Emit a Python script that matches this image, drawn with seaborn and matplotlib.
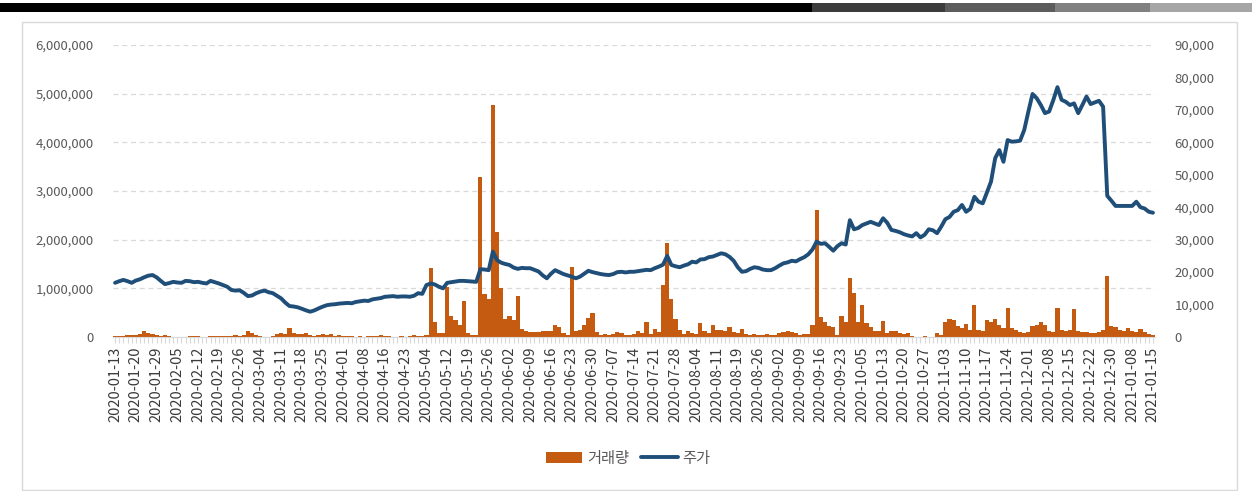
import numpy as np
import pandas as pd
import matplotlib
matplotlib.use("Agg")
import matplotlib.pyplot as plt
from matplotlib.patches import Rectangle, Patch
from matplotlib.lines import Line2D
from matplotlib.ticker import FuncFormatter, MultipleLocator
import seaborn as sns

# ---------------- data ----------------
tick_labels = [
    "2020-01-13", "2020-01-20", "2020-01-29", "2020-02-05", "2020-02-12", "2020-02-19",
    "2020-02-26", "2020-03-04", "2020-03-11", "2020-03-18", "2020-03-25", "2020-04-01",
    "2020-04-08", "2020-04-16", "2020-04-23", "2020-05-04", "2020-05-12", "2020-05-19",
    "2020-05-26", "2020-06-02", "2020-06-09", "2020-06-16", "2020-06-23", "2020-06-30",
    "2020-07-07", "2020-07-14", "2020-07-21", "2020-07-28", "2020-08-04", "2020-08-11",
    "2020-08-19", "2020-08-26", "2020-09-02", "2020-09-09", "2020-09-16", "2020-09-23",
    "2020-10-05", "2020-10-13", "2020-10-20", "2020-10-27", "2020-11-03", "2020-11-10",
    "2020-11-17", "2020-11-24", "2020-12-01", "2020-12-08", "2020-12-15", "2020-12-22",
    "2020-12-30", "2021-01-08", "2021-01-15",
]

# trading-day volume (거래량), one value per trading day
volume = [
    20000, 30000, 20000, 40000, 50000, 50000, 60000, 120000, 90000, 60000,
    40000, 30000, 40000, 20000, 10000, 10000, 10000, 10000, 20000, 20000,
    30000, 10000, 10000, 20000, 20000, 30000, 20000, 20000, 30000, 40000,
    30000, 50000, 120000, 90000, 40000, 20000, 10000, 10000, 20000, 70000,
    80000, 70000, 190000, 80000, 60000, 70000, 80000, 50000, 30000, 50000,
    60000, 50000, 60000, 30000, 40000, 20000, 20000, 20000, 10000, 20000,
    10000, 20000, 30000, 20000, 40000, 20000, 20000, 10000, 10000, 20000,
    10000, 20000, 50000, 20000, 20000, 50000, 1410000, 310000, 90000, 80000,
    1030000, 430000, 350000, 250000, 730000, 80000, 40000, 50000, 3290000, 880000,
    790000, 4770000, 2160000, 1000000, 360000, 430000, 350000, 840000, 160000, 120000,
    100000, 110000, 100000, 120000, 130000, 120000, 250000, 200000, 80000, 50000,
    1440000, 120000, 140000, 250000, 400000, 500000, 110000, 50000, 60000, 50000,
    60000, 100000, 90000, 50000, 40000, 60000, 130000, 80000, 300000, 70000,
    160000, 100000, 1070000, 1940000, 780000, 370000, 140000, 70000, 130000, 80000,
    60000, 290000, 120000, 80000, 250000, 140000, 150000, 130000, 200000, 100000,
    80000, 170000, 60000, 50000, 60000, 50000, 40000, 60000, 50000, 40000,
    90000, 100000, 120000, 100000, 80000, 50000, 60000, 70000, 250000, 2600000,
    420000, 310000, 220000, 200000, 40000, 430000, 300000, 1220000, 910000, 310000,
    660000, 290000, 200000, 120000, 120000, 330000, 90000, 120000, 120000, 80000,
    70000, 80000, 20000, 10000, 10000, 20000, 10000, 10000, 80000, 40000,
    300000, 360000, 340000, 220000, 180000, 270000, 150000, 660000, 150000, 120000,
    350000, 300000, 360000, 240000, 180000, 600000, 180000, 140000, 100000, 80000,
    100000, 220000, 250000, 300000, 250000, 120000, 100000, 600000, 150000, 120000,
    140000, 570000, 120000, 110000, 100000, 90000, 80000, 100000, 140000, 1250000,
    220000, 200000, 150000, 120000, 180000, 120000, 100000, 160000, 100000, 60000,
    40000,
]

# closing price (주가), one value per trading day
price = [
    16700, 17200, 17600, 17200, 16700, 17400, 17800, 18400, 18900, 19100,
    18400, 17300, 16300, 16600, 17000, 16800, 16700, 17300, 17200, 16900,
    17000, 16700, 16500, 17300, 16900, 16500, 16000, 15500, 14500, 14300,
    14400, 13600, 12600, 12800, 13500, 14000, 14300, 13800, 13500, 12700,
    11900, 10600, 9550, 9400, 9150, 8700, 8200, 7800, 8200, 8800,
    9350, 9800, 10000, 10100, 10300, 10400, 10500, 10400, 10800, 11000,
    11200, 11100, 11600, 11800, 12000, 12400, 12500, 12600, 12400, 12500,
    12500, 12400, 12700, 13500, 13300, 16000, 16500, 16200, 15500, 15000,
    16700, 16900, 17100, 17300, 17300, 17200, 17100, 17000, 20900, 20800,
    20600, 26300, 23700, 22900, 22500, 22200, 21400, 21000, 21300, 21200,
    21200, 20700, 20200, 19000, 18100, 19500, 20600, 20000, 19400, 19000,
    18600, 18100, 18600, 19500, 20400, 20000, 19700, 19400, 19200, 19100,
    19400, 20000, 20100, 19900, 20100, 20100, 20300, 20500, 20700, 20600,
    21200, 21700, 22300, 25000, 22200, 21800, 21500, 22000, 22400, 23200,
    23000, 23900, 24000, 24600, 24800, 25300, 25800, 25500, 24700, 23500,
    21500, 20100, 20300, 21000, 21500, 21300, 20800, 20600, 20600, 21200,
    22000, 22700, 23000, 23500, 23300, 24000, 24600, 25500, 27000, 29400,
    28700, 28900, 27800, 26600, 28000, 28900, 28500, 36000, 33200, 33600,
    34500, 35000, 35500, 35000, 34500, 36600, 35200, 33000, 32700, 32300,
    31700, 31300, 31000, 32000, 30700, 31500, 33200, 32900, 32000, 34000,
    36300, 37000, 38600, 39100, 40700, 38600, 39500, 43200, 41700, 41200,
    44500, 47900, 55100, 57600, 54000, 60700, 60200, 60300, 60500, 63800,
    69500, 74900, 73600, 71500, 69000, 69500, 73000, 77000, 73100, 72500,
    71500, 72000, 69000, 71500, 74100, 71800, 72300, 72800, 71000, 43500,
    42000, 40400, 40400, 40400, 40400, 40400, 41700, 40000, 39600, 38600,
    38300,
]

n_days = len(price)
df = pd.DataFrame({"day": np.arange(n_days), "volume": volume, "price": price})

# ---------------- style ----------------
sns.set_theme(style="white")
plt.rcParams["font.family"] = ["Noto Sans CJK KR", "DejaVu Sans"]

BAR_COLOR = "#C55A11"
LINE_COLOR = "#1F4E79"
TEXT_COLOR = "#595959"
GRID_COLOR = "#D9D9D9"

W, H = 1252, 491
fig = plt.figure(figsize=(W / 100, H / 100), dpi=100)

# header band and panel border
fig.add_artist(Rectangle((0, 1 - 12 / H), 812 / W, 9 / H, transform=fig.transFigure,
                         facecolor="black", edgecolor="none"))
for x0, x1, c in [(812, 945, "#3c3c3c"), (945, 1055, "#5c5c5c"),
                  (1055, 1150, "#808080"), (1150, 1252, "#a6a6a6")]:
    fig.add_artist(Rectangle((x0 / W, 1 - 12 / H), (x1 - x0) / W, 9 / H,
                             transform=fig.transFigure, facecolor=c, edgecolor="none"))
fig.add_artist(Rectangle((22 / W, 1 - 490 / H), (1237 - 22) / W, (490 - 22) / H,
                         transform=fig.transFigure, facecolor="none",
                         edgecolor="#D9D9D9", linewidth=1))

ax = fig.add_axes([113 / W, 1 - 337 / H, (1155 - 113) / W, (337 - 45) / H])
ax.set_facecolor("none")

sns.barplot(data=df, x="day", y="volume", ax=ax, color=BAR_COLOR, width=1.0,
            saturation=1, linewidth=0, native_scale=True)
ax.set_xlim(-0.5, n_days - 0.5)
ax.set_ylim(0, 6_000_000)
ax.yaxis.set_major_locator(MultipleLocator(1_000_000))
ax.yaxis.set_major_formatter(FuncFormatter(lambda v, p: f"{int(v):,}"))
ax.grid(axis="y", color=GRID_COLOR, linestyle=(0, (4, 3)), linewidth=0.9)
ax.set_axisbelow(True)

ax.set_xticks(np.arange(0, n_days, 5))
ax.set_xticklabels(tick_labels, rotation=90, fontsize=10.5, color="#3a3a3a",
                   fontweight="medium")
ax.set_xticks(np.arange(n_days), minor=True)
ax.tick_params(axis="x", which="both", length=4, color=GRID_COLOR, width=0.8,
               bottom=True, pad=3)
ax.tick_params(axis="y", length=0, labelsize=9.5, labelcolor=TEXT_COLOR, pad=14)
ax.set_xlabel("")
ax.set_ylabel("")
for s in ["top", "left", "right"]:
    ax.spines[s].set_visible(False)
ax.spines["bottom"].set_color(GRID_COLOR)
ax.spines["bottom"].set_linewidth(0.8)

ax2 = ax.twinx()
sns.lineplot(data=df, x="day", y="price", ax=ax2, color=LINE_COLOR, linewidth=2.8)
ax2.set_ylim(0, 90_000)
ax2.yaxis.set_major_locator(MultipleLocator(10_000))
ax2.yaxis.set_major_formatter(FuncFormatter(lambda v, p: f"{int(v):,}"))
ax2.tick_params(axis="y", length=0, labelsize=9.5, labelcolor=TEXT_COLOR, pad=14)
ax2.set_ylabel("")
ax2.set_xlabel("")
ax2.grid(False)
for s in ["top", "left", "right", "bottom"]:
    ax2.spines[s].set_visible(False)
ax2.set_xlim(-0.5, n_days - 0.5)

handles = [Patch(facecolor=BAR_COLOR, edgecolor="none", label="거래량"),
           Line2D([0], [0], color=LINE_COLOR, linewidth=2.8, label="주가")]
fig.legend(handles=handles, loc="center", bbox_to_anchor=(628 / W, 1 - 458 / H),
           ncol=2, frameon=False, fontsize=11, handlelength=2.4, handletextpad=0.3,
           columnspacing=0.8, labelcolor=TEXT_COLOR)

fig.savefig("out.png", dpi=100)
